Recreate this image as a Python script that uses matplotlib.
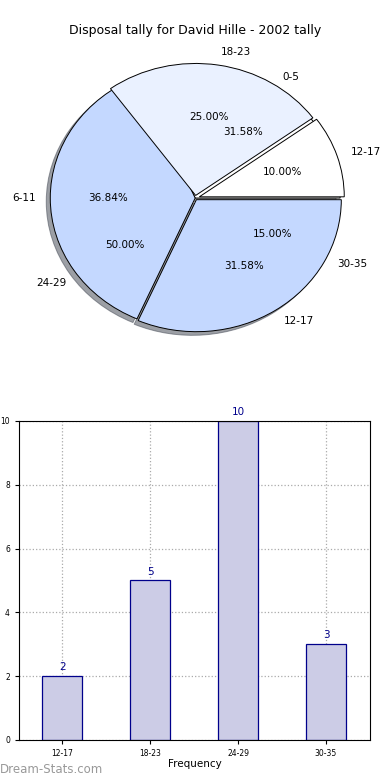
import matplotlib
matplotlib.use('Agg')
import matplotlib.pyplot as plt

# donnees
pie_labels_a = ['12-17', '18-23', '24-29', '30-35']
pie_counts_a = [2, 5, 10, 3]
pie_labels_b = ['0-5', '6-11', '12-17']
pie_counts_b = [6, 7, 6]

bar_labels = ['12-17', '18-23', '24-29', '30-35']
bar_counts = [2, 5, 10, 3]

title = 'Disposal tally for David Hille - 2002 tally'

fig = plt.figure(figsize=(3.9, 7.8), dpi=100)

# camembert (deux series superposees)
ax1 = fig.add_axes([0.036, 0.5346, 0.929, 0.423])
ax1.pie(pie_counts_b, labels=pie_labels_b, autopct='%.2f%%',
        colors=['white', '#c4d8ff', '#c4d8ff'],
        explode=[0.0, 0.0, 0.015], shadow=True,
        wedgeprops={'edgecolor': 'black', 'linewidth': 0.7},
        textprops={'fontsize': 7.5})
wedges, texts, autotexts = ax1.pie(
    pie_counts_a, labels=pie_labels_a, autopct='%.2f%%',
    colors=['white', '#eaf1ff', 'none', 'none'],
    explode=[0.03, 0.02, 0.0, 0.0],
    wedgeprops={'edgecolor': 'black', 'linewidth': 0.7},
    textprops={'fontsize': 7.5})
wedges[2].set_edgecolor('none')
wedges[3].set_edgecolor('none')
ax1.set_aspect('auto')
ax1.set_xlim(-1.25, 1.25)
ax1.set_ylim(-1.25, 1.25)
ax1.axis('off')
fig.text(0.5, 0.961, title, ha='center', va='center', fontsize=9)

# histogramme
ax2 = fig.add_axes([0.0487, 0.0513, 0.9, 0.409])
x = range(len(bar_counts))
ax2.bar(x, bar_counts, width=0.45, color='#cccce6',
        edgecolor='#00008b', linewidth=0.9, zorder=2)
for i, v in enumerate(bar_counts):
    ax2.text(i, v + 0.12, str(v), ha='center', va='bottom',
             color='#00008b', fontsize=7.5)
ax2.set_xticks(list(x))
ax2.set_xticklabels(bar_labels, fontsize=5.5)
ax2.set_ylim(0, 10)
ax2.set_xlim(-0.49, 3.5)
ax2.set_yticks([0, 2, 4, 6, 8, 10])
ax2.tick_params(axis='y', labelsize=5.5, length=3)
ax2.tick_params(axis='x', length=3)
ax2.grid(True, linestyle=':', color='#aaaaaa', linewidth=0.9, zorder=0)
ax2.set_axisbelow(True)
ax2.set_xlabel('Frequency', fontsize=7.5, labelpad=1)
ax2.set_ylabel('Date Interval', fontsize=7.5)
ax2.yaxis.set_label_coords(-0.055, 0.5)

fig.text(0.0, 0.013, 'Dream-Stats.com', color='#999999', fontsize=8.5,
         ha='left', va='center')

plt.savefig('out.png', dpi=100)
